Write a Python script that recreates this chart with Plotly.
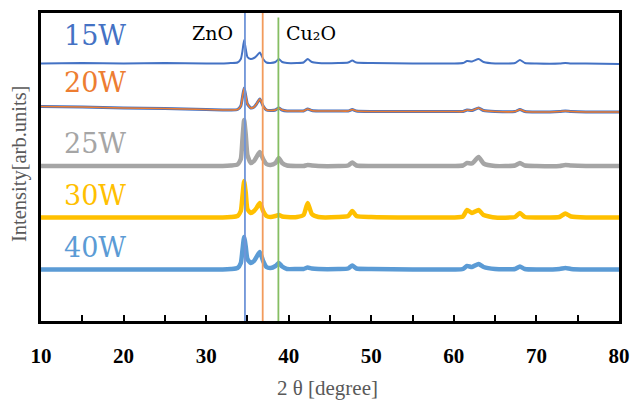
import plotly.graph_objects as go

# 2-theta sample positions (degrees)
two_theta = [10, 15, 20, 25, 30, 32, 33, 33.8, 34.2, 34.4, 34.6, 34.8, 35.0, 35.4, 35.8, 36.1,
             36.5, 36.9, 37.3, 37.8, 38.4, 38.8, 39.2, 39.8, 41, 41.8, 42.3, 42.8, 43.6, 46,
             47.2, 47.7, 48.2, 50, 55, 60, 61.1, 61.6, 62.2, 63.0, 63.6, 65, 67.4, 68.0, 68.6,
             70, 72.8, 73.5, 74.2, 76, 80]

# Intensities (arb. units, already stacked as in the reference)
i_15W = [257.5, 258, 257.5, 258, 257.5, 257.5, 258, 258.5, 262, 270, 281, 272, 264, 262, 263, 265,
         268.5, 262, 258.5, 258, 259, 262, 259, 258, 258, 258.5, 262, 259, 258, 258,
         258.5, 260.5, 258.5, 258, 257.5, 257.5, 258, 260, 259.5, 262, 259, 257.5, 258, 261, 258,
         257.5, 257.5, 258, 257.5, 257.5, 257]
i_20W = [214.5, 214, 213, 212.5, 211.5, 211, 211, 211.5, 215, 224, 233, 225, 217, 213, 214, 217,
         222, 215, 211, 210.5, 211, 213, 211, 210, 210, 210, 212, 210.5, 210, 210,
         210, 211.5, 210, 209.5, 209.5, 209.5, 209.5, 211, 210.5, 213, 210.5, 209.5, 209.5, 211.5, 209.5,
         209, 209.5, 210, 209.5, 209, 209]
i_25W = [155, 155, 155, 155, 155, 155, 155.5, 156.5, 162, 182, 201, 186, 166, 158, 160, 164,
         169, 162, 157, 156, 158, 163, 158, 155.5, 155, 155, 156, 155.5, 155, 155,
         155.5, 158.5, 155.5, 155, 155, 155, 155.5, 158, 157.5, 164, 157.5, 155, 155.5, 158, 155.5,
         155, 155, 156, 155.5, 155, 155]
i_30W = [103.5, 103.5, 103.5, 103.5, 103.5, 103.5, 104, 105, 110, 125, 140, 128, 112, 108, 110, 113,
         118, 110, 105, 104, 105, 106, 104.5, 104, 104, 106, 118, 107, 104, 104,
         105, 110, 105, 104, 103.5, 103.5, 104.5, 111, 108, 111, 106, 103.5, 104, 108, 104,
         103.5, 104, 107.5, 104.5, 103.5, 103.5]
i_40W = [51.5, 51.5, 51.5, 51.5, 51.5, 51.5, 52, 53, 58, 71, 84, 74, 62, 58, 60, 64,
         69, 60, 54, 53, 55, 58, 54.5, 52, 52, 52, 53.5, 52.5, 52, 52,
         52.5, 55.5, 52.5, 52, 51.5, 51.5, 52, 55, 54, 57, 54, 52, 52, 54.5, 52,
         51.5, 52, 53, 52, 51.5, 51.5]

series_names = ["15W", "20W", "25W", "30W", "40W"]
series_data = [i_15W, i_20W, i_25W, i_30W, i_40W]
series_colors = ["#4472C4", "#ED7D31", "#A5A5A5", "#FFC000", "#5B9BD5"]
series_widths = [2, 1.6, 4.5, 4.5, 4.5]
label_y = [286, 239, 178, 126, 74]

ref_positions = [34.7, 36.85, 38.75]
ref_colors = ["#6F94D8", "#F29B5C", "#86BE63"]
ref_tops = [1.0, 1.0, 0.985]
ref_labels = ["ZnO", "Cu₂O"]
ref_label_x = [30.8, 42.7]
ref_label_y = 288

x_ticks = [10, 20, 30, 40, 50, 60, 70, 80]

fig = go.Figure()

# blue underlay of the 20W trace (visible fringe in reference)
fig.add_trace(go.Scatter(x=two_theta, y=i_20W, mode="lines",
                         line=dict(color="#4472C4", width=3, shape="spline", smoothing=0.5),
                         showlegend=False, hoverinfo="skip"))

for name, data, col, w in zip(series_names, series_data, series_colors, series_widths):
    fig.add_trace(go.Scatter(x=two_theta, y=data, mode="lines", name=name,
                             line=dict(color=col, width=w, shape="spline", smoothing=0.5),
                             showlegend=False))

for xpos, col, top in zip(ref_positions, ref_colors, ref_tops):
    fig.add_shape(type="line", x0=xpos, x1=xpos, xref="x", y0=0, y1=top,
                  yref="paper", line=dict(color=col, width=1.8), layer="above")

for name, col, yy in zip(series_names, series_colors, label_y):
    fig.add_annotation(x=12.5, y=yy, xref="x", yref="y", text=name, showarrow=False,
                       xanchor="left", yanchor="middle",
                       font=dict(family="DejaVu Serif", size=27, color=col))

for txt, xx in zip(ref_labels, ref_label_x):
    fig.add_annotation(x=xx, y=ref_label_y, xref="x", yref="y", text=txt, showarrow=False,
                       xanchor="center", yanchor="middle",
                       font=dict(family="DejaVu Serif", size=19, color="black"))

# axis titles
fig.add_annotation(x=0.495, y=-0.217, xref="paper", yref="paper", text="2 θ [degree]",
                   showarrow=False, xanchor="center", yanchor="middle",
                   font=dict(family="Liberation Serif", size=21, color="#595959"))
fig.add_annotation(x=-0.036, y=0.51, xref="paper", yref="paper", text="Intensity[arb.units]",
                   showarrow=False, xanchor="center", yanchor="middle", textangle=-90,
                   font=dict(family="Liberation Serif", size=20.5, color="#595959"))

fig.update_xaxes(range=[10, 80], tickvals=x_ticks, ticktext=[str(v) for v in x_ticks],
                 showline=True, mirror=True, linecolor="black", linewidth=2.5,
                 ticks="inside", ticklen=6, tickwidth=2, tickcolor="black",
                 minor=dict(dtick=5, tick0=10, ticks="inside", ticklen=6, tickwidth=2, tickcolor="black", showgrid=False),
                 showgrid=False, zeroline=False, ticklabelstandoff=14, automargin=False,
                 tickfont=dict(family="Liberation Serif", size=21, color="black", weight="bold"))
fig.update_yaxes(range=[0, 308], showline=True, mirror=True, linecolor="black", linewidth=2.5,
                 ticks="", showticklabels=False, showgrid=False, zeroline=False, automargin=False)

fig.update_layout(width=630, height=401, margin=dict(l=41, r=11, t=13, b=80, autoexpand=False),
                  plot_bgcolor="white", paper_bgcolor="white", showlegend=False)

fig.write_html("out.html", config={"displayModeBar": False},
               post_script="document.body.style.margin='0px';document.body.style.overflow='hidden';")
